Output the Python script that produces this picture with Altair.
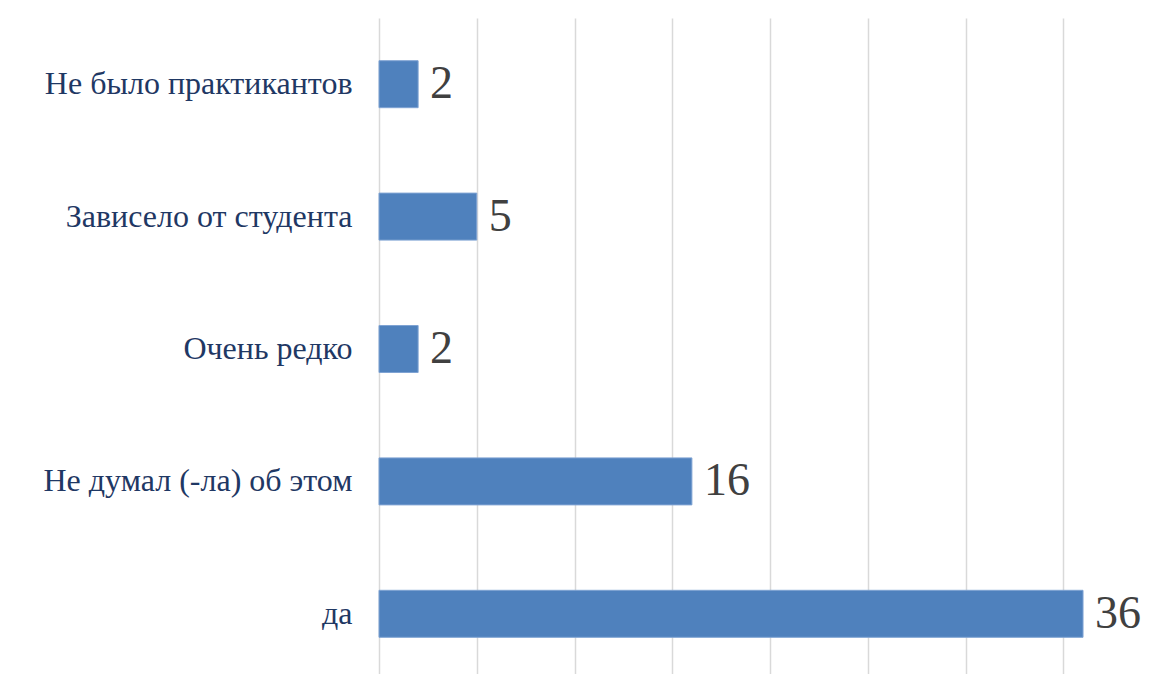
import altair as alt
import pandas as pd

categories = ["Не было практикантов\u00a0", "Зависело от студента\u00a0", "Очень редко\u00a0",
              "Не думал (-ла) об этом", "да"]
values = [2, 5, 2, 16, 36]
grid_values = [0, 5, 10, 15, 20, 25, 30, 35]

df = pd.DataFrame({"cat": categories, "val": values})

FONT = "'Liberation Serif', 'Times New Roman', Times, 'DejaVu Serif', serif"

x = alt.X("val:Q",
          scale=alt.Scale(domain=[0, 38.3], nice=False, zero=True),
          axis=alt.Axis(values=grid_values, labels=False, ticks=False, domain=False,
                        grid=True, gridColor="#D9D9D9", gridWidth=1.5, title=None))
y = alt.Y("cat:N", sort=categories,
          scale=alt.Scale(paddingInner=0, paddingOuter=0),
          axis=alt.Axis(title=None, ticks=False, domain=False, grid=False,
                        labelFont=FONT, labelFontSize=32,
                        labelColor="#1F3864", labelPadding=27, labelLimit=400))

bars = alt.Chart(df).mark_bar(size=47, color="#4F81BD", stroke="#7FA3D3",
                              strokeWidth=1).encode(x=x, y=y)
text = alt.Chart(df).mark_text(align="left", baseline="middle", dx=12,
                               font=FONT, fontSize=46,
                               color="#404040").encode(x=x, y=y, text="val:Q")

chart = (bars + text).properties(
    width=749, height=662,
    autosize=alt.AutoSizeParams(type="none"),
    padding={"left": 371, "top": 10, "right": 14, "bottom": 0},
).configure_view(stroke=None)

chart.save("out.html", embed_options={"renderer": "svg", "actions": False})
